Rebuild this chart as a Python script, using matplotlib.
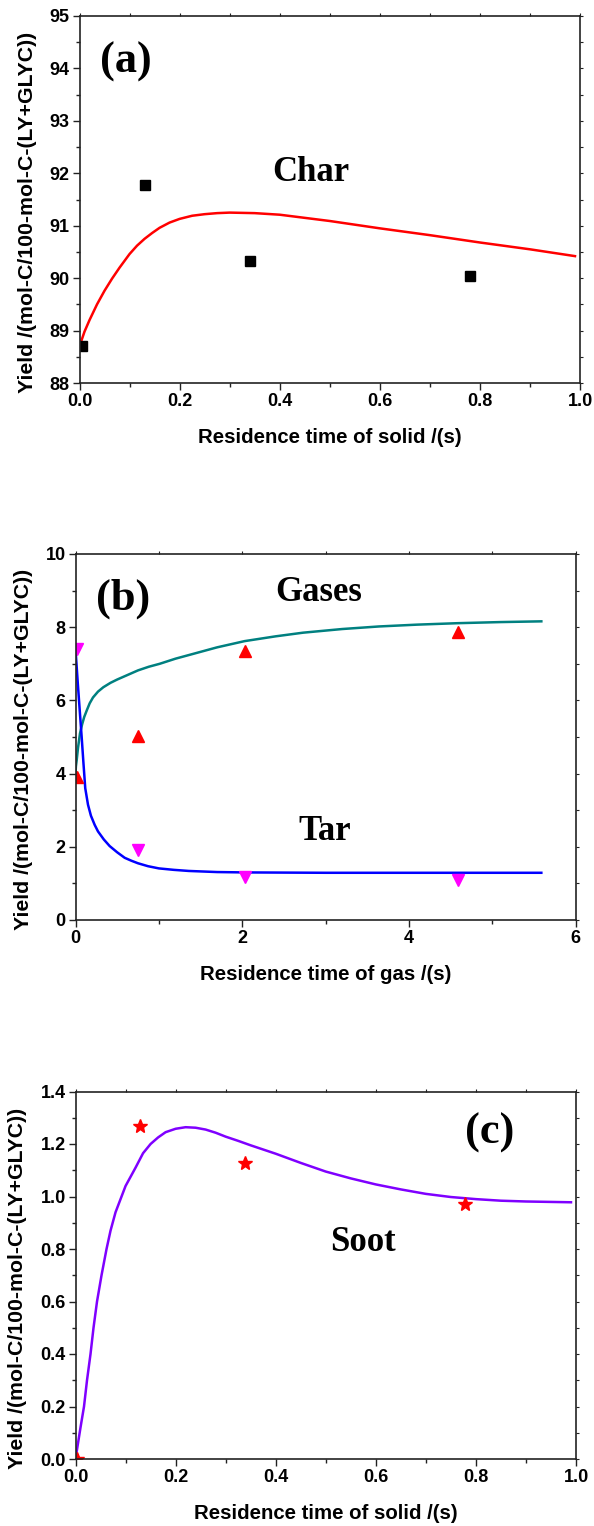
import matplotlib
matplotlib.use("Agg")
import matplotlib.pyplot as plt
from matplotlib.ticker import MultipleLocator, FormatStrFormatter

plt.rcParams['font.family'] = ['Liberation Sans', 'DejaVu Sans']
plt.rcParams['font.weight'] = 'bold'

# ---- (a) Char yield vs solid residence time ----
char_t = [0.005, 0.13, 0.34, 0.78]
char_y = [88.70, 91.78, 90.33, 90.05]
char_model_t = [0.0, 0.01, 0.02, 0.035, 0.05, 0.065, 0.08, 0.09, 0.1, 0.115, 0.13,
                0.145, 0.16, 0.18, 0.2, 0.225, 0.25, 0.275, 0.3, 0.35, 0.4, 0.45,
                0.5, 0.6, 0.7, 0.8, 0.9, 0.99]
char_model_y = [88.70, 88.98, 89.20, 89.50, 89.76, 89.99, 90.20, 90.33, 90.46, 90.62,
                90.75, 90.86, 90.96, 91.06, 91.13, 91.19, 91.22, 91.24, 91.25, 91.24,
                91.21, 91.15, 91.09, 90.95, 90.82, 90.68, 90.55, 90.42]

# ---- (b) Gases and tar yield vs gas residence time ----
gas_t = [0.02, 0.75, 2.03, 4.59]
gas_y = [3.91, 5.02, 7.36, 7.86]
tar_t = [0.02, 0.75, 2.03, 4.59]
tar_y = [7.41, 1.91, 1.18, 1.09]
gas_model_t = [0.0, 0.005, 0.014, 0.03, 0.054, 0.08, 0.105, 0.134, 0.17, 0.21, 0.27,
               0.334, 0.42, 0.5, 0.61, 0.75, 0.88, 1.01, 1.2, 1.41, 1.7, 2.03, 2.4,
               2.73, 3.2, 3.64, 4.1, 4.59, 5.1, 5.59]
gas_model_y = [4.00, 4.20, 4.36, 4.70, 5.10, 5.35, 5.55, 5.72, 5.92, 6.08, 6.24,
               6.36, 6.48, 6.57, 6.68, 6.82, 6.92, 7.00, 7.14, 7.27, 7.45, 7.62, 7.75,
               7.85, 7.95, 8.02, 8.07, 8.11, 8.14, 8.16]
tar_model_t = [0.0, 0.025, 0.05, 0.074, 0.095, 0.117, 0.15, 0.185, 0.23, 0.27, 0.34,
               0.41, 0.5, 0.59, 0.67, 0.75, 0.87, 1.0, 1.18, 1.36, 1.7, 2.03, 3.0,
               4.0, 5.0, 5.59]
tar_model_y = [7.40, 6.55, 5.75, 5.00, 4.30, 3.60, 3.15, 2.85, 2.60, 2.42, 2.20,
               2.02, 1.85, 1.70, 1.62, 1.55, 1.47, 1.41, 1.37, 1.34, 1.31, 1.30, 1.29,
               1.29, 1.29, 1.29]

# ---- (c) Soot yield vs solid residence time ----
soot_t = [0.003, 0.129, 0.339, 0.779]
soot_y = [0.0, 1.27, 1.127, 0.973]
soot_model_t = [0.0, 0.005, 0.01, 0.017, 0.023, 0.03, 0.036, 0.043, 0.052, 0.062,
                0.07, 0.08, 0.09, 0.1, 0.12, 0.135, 0.15, 0.165, 0.18, 0.2, 0.22,
                0.24, 0.26, 0.28, 0.3, 0.325, 0.35, 0.375, 0.4, 0.45, 0.5, 0.55,
                0.6, 0.65, 0.7, 0.75, 0.8, 0.85, 0.9, 0.99]
soot_model_y = [0.0, 0.06, 0.12, 0.20, 0.30, 0.40, 0.50, 0.60, 0.70, 0.80,
                0.87, 0.94, 0.99, 1.04, 1.11, 1.165, 1.20, 1.225, 1.245, 1.258, 1.264,
                1.262, 1.255, 1.243, 1.228, 1.212, 1.195, 1.179, 1.163, 1.128, 1.095,
                1.069, 1.046, 1.027, 1.010, 0.998, 0.990, 0.984, 0.981, 0.978]

ylabel_text = "Yield /(mol-C/100-mol-C-(LY+GLYC))"
serif = ['Liberation Serif', 'DejaVu Serif']

fig = plt.figure(figsize=(5.94, 15.26), dpi=100)
W, H = 594.0, 1526.0


def make_axes(left, right, top, bottom):
    return fig.add_axes([left / W, 1 - bottom / H, (right - left) / W, (bottom - top) / H])


def style(ax, xmaj, xmin, ymaj, ymin):
    for s in ax.spines.values():
        s.set_linewidth(1.2)
        s.set_color('#222222')
        s.set_zorder(4)
    ax.xaxis.set_major_locator(MultipleLocator(xmaj))
    ax.xaxis.set_minor_locator(MultipleLocator(xmin))
    ax.yaxis.set_major_locator(MultipleLocator(ymaj))
    ax.yaxis.set_minor_locator(MultipleLocator(ymin))
    ax.tick_params(which='both', direction='out', width=1.0, color='#222222')
    ax.tick_params(which='major', length=5, labelsize=13, pad=2)
    ax.tick_params(which='minor', length=3)
    # short mirrored ticks on the top and right frame
    ax.tick_params(which='both', top=True, right=True, labeltop=False, labelright=False)
    for t in ax.xaxis.get_major_ticks() + ax.xaxis.get_minor_ticks():
        t.tick2line.set_markersize(2)
        t.tick2line.set_markeredgewidth(0.8)
    for t in ax.yaxis.get_major_ticks() + ax.yaxis.get_minor_ticks():
        t.tick2line.set_markersize(2)
        t.tick2line.set_markeredgewidth(0.8)
    for lab in ax.get_xticklabels() + ax.get_yticklabels():
        lab.set_fontweight('bold')


def labels(ax, xtext, xlab_y, ylab_x):
    ax.set_xlabel(xtext, fontsize=14.7, fontweight='bold')
    ax.set_ylabel(ylabel_text, fontsize=15.3, fontweight='bold')
    ax.xaxis.set_label_coords(0.5, xlab_y)
    ax.yaxis.set_label_coords(ylab_x, 0.465)


# Panel (a)
ax1 = make_axes(79.5, 580, 16, 383)
ax1.plot(char_model_t, char_model_y, color='#ff0000', lw=1.8, zorder=2)
ax1.plot(char_t, char_y, 's', color='black', ms=7.5, zorder=3)
ax1.set_xlim(0, 1.0)
ax1.set_ylim(88, 95)
style(ax1, 0.2, 0.1, 1, 0.5)
ax1.xaxis.set_major_formatter(FormatStrFormatter('%.1f'))
labels(ax1, "Residence time of solid /(s)", -0.123, -0.085)
ax1.text(0.093, 94.12, "(a)", family=serif, fontweight='bold', fontsize=32,
         ha='center', va='center')
ax1.text(0.4625, 92.02, "Char", family=serif, fontweight='bold', fontsize=25,
         ha='center', va='center')

# Panel (b)
ax2 = make_axes(75.5, 575.5, 554, 920)
ax2.plot(gas_model_t, gas_model_y, color='#008080', lw=1.8, zorder=2)
ax2.plot(tar_model_t, tar_model_y, color='#0000ff', lw=1.8, zorder=2)
ax2.plot(gas_t, gas_y, '^', color='#ff0000', ms=9, zorder=3)
ax2.plot(tar_t, tar_y, 'v', color='#ff00ff', ms=9, zorder=3)
ax2.set_xlim(0, 6)
ax2.set_ylim(0, 10)
style(ax2, 2, 1, 2, 1)
labels(ax2, "Residence time of gas /(s)", -0.123, -0.085)
ax2.text(0.57, 8.77, "(b)", family=serif, fontweight='bold', fontsize=32,
         ha='center', va='center')
ax2.text(2.92, 8.96, "Gases", family=serif, fontweight='bold', fontsize=25,
         ha='center', va='center')
ax2.text(2.99, 2.43, "Tar", family=serif, fontweight='bold', fontsize=25,
         ha='center', va='center')

# Panel (c)
ax3 = make_axes(75.5, 576, 1091.5, 1459)
ax3.plot(soot_model_t, soot_model_y, color='#7f00ff', lw=1.8, zorder=2)
ax3.plot(soot_t, soot_y, '*', color='#ff0000', ms=10, zorder=3)
ax3.set_xlim(0, 1.0)
ax3.set_ylim(0, 1.4)
style(ax3, 0.2, 0.1, 0.2, 0.1)
ax3.xaxis.set_major_formatter(FormatStrFormatter('%.1f'))
ax3.yaxis.set_major_formatter(FormatStrFormatter('%.1f'))
labels(ax3, "Residence time of solid /(s)", -0.123, -0.097)
ax3.text(0.828, 1.242, "(c)", family=serif, fontweight='bold', fontsize=32,
         ha='center', va='center')
ax3.text(0.574, 0.823, "Soot", family=serif, fontweight='bold', fontsize=25,
         ha='center', va='center')

fig.savefig("out.png", dpi=100)
